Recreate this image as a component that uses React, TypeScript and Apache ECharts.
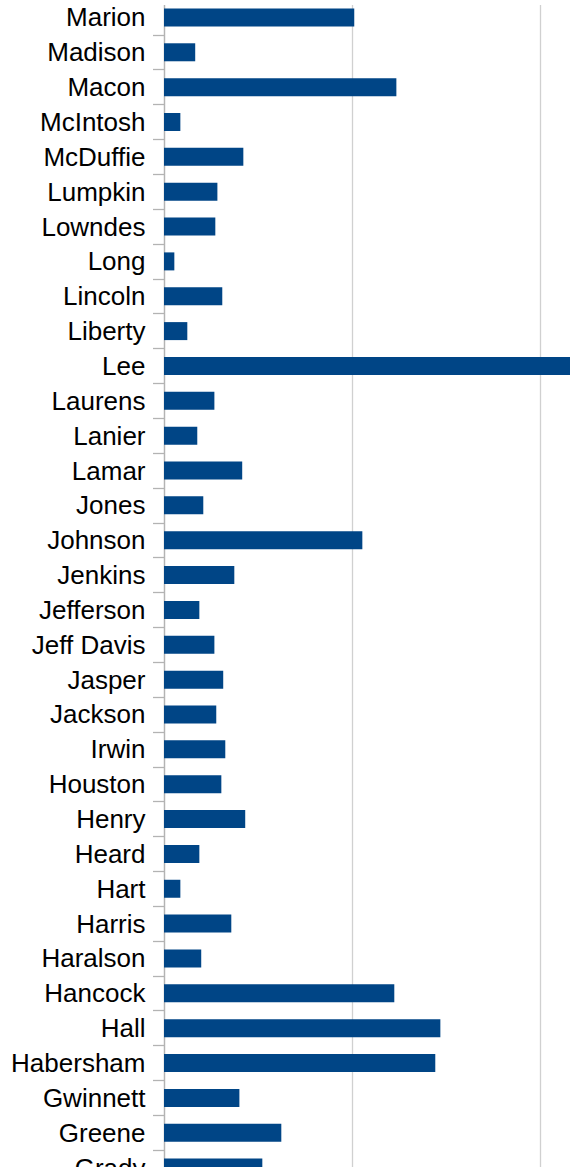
import React, { useEffect, useRef } from "react";
import * as echarts from "echarts";

const categories = [
  "Marion", "Madison", "Macon", "McIntosh", "McDuffie", "Lumpkin", "Lowndes", "Long",
  "Lincoln", "Liberty", "Lee", "Laurens", "Lanier", "Lamar", "Jones", "Johnson",
  "Jenkins", "Jefferson", "Jeff Davis", "Jasper", "Jackson", "Irwin", "Houston", "Henry",
  "Heard", "Hart", "Harris", "Haralson", "Hancock", "Hall", "Habersham", "Gwinnett",
  "Greene", "Grady",
];

const values = [
  10.12, 1.66, 12.36, 0.87, 4.22, 2.84, 2.73, 0.55,
  3.1, 1.24, 23.5, 2.68, 1.77, 4.16, 2.09, 10.55,
  3.74, 1.88, 2.68, 3.15, 2.78, 3.26, 3.05, 4.32,
  1.88, 0.87, 3.58, 1.98, 12.25, 14.7, 14.43, 4.01,
  6.24, 5.23,
];

const axisMin = 0;
const axisMax = 30;
const axisStep = 10;

export default function App() {
  const ref = useRef<HTMLDivElement>(null);
  useEffect(() => {
    if (!ref.current) return;
    const chart = echarts.init(ref.current, null, { renderer: "svg" });
    const band = 34.87;
    chart.setOption({
      animation: false,
      backgroundColor: "#ffffff",
      grid: {
        left: 164,
        top: -0.57,
        width: 564,
        height: band * categories.length,
        containLabel: false,
      },
      xAxis: {
        type: "value",
        min: axisMin,
        max: axisMax,
        interval: axisStep,
        axisLine: { show: false },
        axisTick: { show: false },
        axisLabel: { show: false },
        splitLine: { show: true, lineStyle: { color: "#d0d0d0", width: 1.3 } },
      },
      yAxis: {
        type: "category",
        inverse: true,
        data: categories,
        axisLine: { show: true, lineStyle: { color: "#b3b3b3", width: 1.3 } },
        axisTick: { show: true, length: 11, lineStyle: { color: "#b3b3b3", width: 1.3 } },
        axisLabel: {
          margin: 18.5,
          fontSize: 26,
          fontFamily: "Liberation Sans",
          color: "#000000",
          interval: 0,
        },
        splitLine: { show: false },
      },
      series: [
        {
          type: "bar",
          data: values,
          barWidth: 18,
          itemStyle: { color: "#004586" },
        },
      ],
      graphic: [
        {
          type: "rect",
          z: 100,
          shape: { x: 150, y: 0, width: 650, height: 5 },
          style: { fill: "#ffffff" },
        },
      ],
    });
    return () => chart.dispose();
  }, []);
  return (
    <div
      style={{
        position: "fixed",
        left: 0,
        top: 0,
        width: 570,
        height: 1167,
        overflow: "hidden",
        background: "#ffffff",
      }}
    >
      <div ref={ref} style={{ width: 800, height: 1250 }} />
    </div>
  );
}
